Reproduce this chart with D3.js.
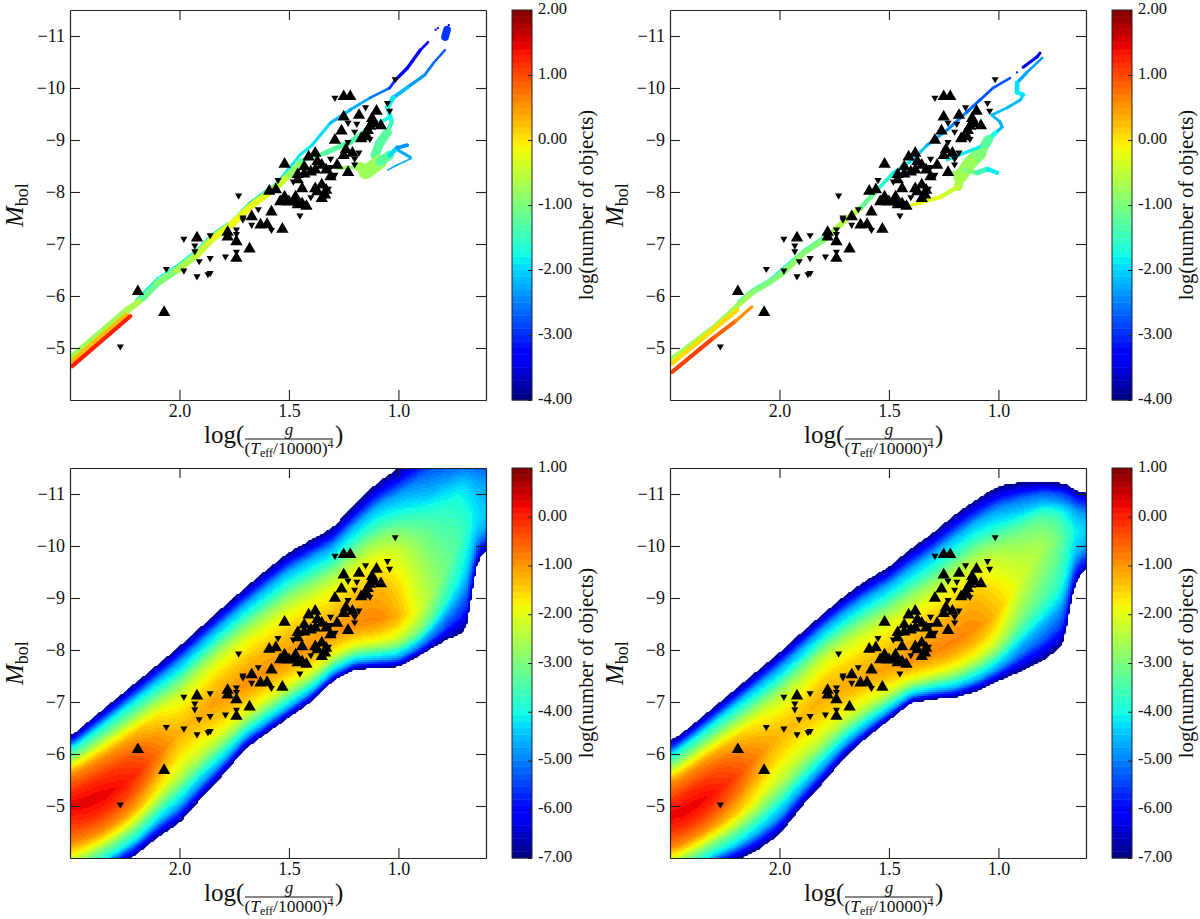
<!DOCTYPE html>
<html>
<head>
<meta charset="utf-8">
<script src="https://cdn.jsdelivr.net/npm/d3@7"></script>
<style>
    html, body { margin: 0; padding: 0; background: #fff; }
    svg text { font-family: "Liberation Serif", serif; fill: #111; }
</style>
</head>
<body>
<svg id="chart" width="1200" height="919"></svg>
<script>
// observed objects, [log(g/(Teff/10000)^4), Mbol]
const upObjects = [
    [2.19,-6.12],[2.07,-5.72],[1.92,-7.15],[1.78,-7.26],[1.78,-7.17],[1.74,-7.08],[1.74,-6.76],[1.68,-6.94],
    [1.63,-7.40],[1.60,-7.41],[1.53,-7.32],[1.52,-8.57],[1.59,-8.05],[1.56,-8.08],[1.43,-8.38],[1.46,-8.37],
    [1.51,-7.85],[1.48,-7.85],[1.58,-7.65],[1.67,-7.56],[1.25,-9.87],[1.22,-9.87],[1.25,-9.48],[1.18,-9.51],
    [1.10,-9.59],[1.12,-9.45],[1.08,-9.31],[1.14,-9.22],[1.26,-9.21],[1.17,-9.06],[1.29,-9.03],[1.38,-8.78],
    [1.41,-8.71],[1.25,-8.74],[1.21,-8.78],[1.35,-8.55],[1.38,-8.46],[1.33,-8.46],[1.28,-8.55],[1.23,-8.41],
    [1.44,-8.10],[1.35,-8.17],[1.38,-8.10],[1.33,-8.07],[1.35,-7.91],[1.52,-7.94],[1.44,-7.81],[1.54,-7.85],[1.46,-7.79],
    [1.50,-7.85],[1.42,-7.76],[1.47,-7.94],[1.37,-8.62],[1.43,-8.52],[1.40,-8.42],[1.46,-8.27],[1.31,-8.33],
    [1.335,-7.98],[1.37,-8.04],[1.11,-9.35],[1.13,-9.30],[1.15,-9.15],[1.15,-9.10],[1.24,-8.85]
]
const downObjects = [
    [2.27,-5.01],[2.06,-6.50],[1.98,-7.08],[1.98,-6.47],[1.93,-6.95],[1.93,-6.84],[1.91,-6.65],[1.92,-6.36],
    [1.86,-7.15],[1.86,-6.71],[1.87,-6.40],[1.86,-6.42],[1.79,-6.74],[1.74,-7.26],[1.74,-7.17],[1.74,-6.83],
    [1.67,-7.35],[1.71,-7.45],[1.58,-7.25],[1.73,-7.91],[1.55,-8.21],[1.48,-8.18],[1.64,-7.65],[1.71,-7.49],
    [1.45,-7.53],[1.29,-9.79],[1.015,-10.15],[1.15,-9.61],[1.05,-9.69],[1.04,-9.54],[1.23,-9.31],[1.19,-9.29],
    [1.13,-9.00],[1.20,-9.14],[1.23,-8.94],[1.18,-8.74],[1.20,-8.62],[1.20,-8.51],[1.31,-8.62],[1.29,-8.31],
    [1.31,-8.46],[1.40,-7.88],[1.32,-8.04]
]

// top panels: occupied ridges of the grid, [logg, Mbol, log N, spread in Mbol]
const tracksLeft = [
    [[2.385,-5.25,-1.8,.05],[2.25,-5.69,-1.8,.05]],
    [[2.2,-5.92,-1.9,.03],[2.1,-6.35,-1.9,.03],[2.01,-6.6,-1.6,.03],[1.92,-6.9,-1.6,.03],[1.85,-7.2,-1.6,.03],[1.78,-7.4,-1.6,.03]],
    [[2.49,-4.85,-.8,.09],[2.235,-5.77,-.8,.09]],
    [[2.49,-4.75,.2,.09],[2.24,-5.65,.2,.09]],
    [[2.49,-4.65,1.2,.08],[2.225,-5.61,1.2,.08]],
    [[1.78,-7.35,-1.9,.05],[1.68,-7.79,-1.9,.05],[1.555,-8.17,-1.9,.05],[1.45,-8.71,-1.9,.06],[1.395,-8.9,-1.9,.06],[1.31,-9.33,-2,.06],
     [1.22,-9.58,-2.2,.06],[1.13,-9.81,-2.4,.05],[1.04,-10,-2.7,.05],[1.015,-10.15,-3.3,.06],[.96,-10.38,-3.3,.07],[.90,-10.73,-3.4,.06],[.865,-10.88,-3,.04]],
    [[2.235,-5.73,-.3,.12],[2.166,-5.96,-1,.12],[2.10,-6.25,-1.3,.13],[2.01,-6.5,-.7,.13],[1.92,-6.79,-.6,.13],[1.85,-7.1,-.4,.13],
     [1.755,-7.4,-.1,.13],[1.68,-7.71,-.2,.13],[1.555,-8.1,-.3,.13],[1.50,-8.33,-.6,.13],[1.45,-8.56,-1.2,.12]],
    [[.787,-10.98,-3,.15],[.778,-11.12,-3,.15]],
    [[.787,-10.73,-2.8,.04],[.84,-10.48,-2.7,.05],[.88,-10.25,-2.4,.06],[.956,-10.02,-2.3,.07],[1.025,-9.81,-2,.08],[1.05,-9.63,-1.7,.11],
     [1.03,-9.35,-1.6,.06],[1.05,-9.15,-1.4,.11],[1.085,-8.94,-1.2,.24],[1.107,-8.71,-1.2,.11]],
    [[1.45,-8.6,-1.3,.08],[1.335,-8.75,-1.3,.09],[1.22,-8.96,-1.3,.11],[1.13,-9.23,-1.5,.09],[1.04,-9.44,-2,.05]],
    [[1.05,-8.42,-2.2,.03],[1.006,-8.52,-2.2,.03],[.94,-8.65,-2.2,.03]],
    [[1.0,-8.8,-2.3,.06],[.947,-8.67,-2.3,.06]],
    [[1.28,-8.46,-1,.05],[1.175,-8.48,-.8,.09],[1.15,-8.38,-.7,.3],[1.085,-8.58,-.9,.24],[1.04,-8.71,-1.6,.11],[1.006,-8.85,-2.2,.07],[.96,-8.9,-2.5,.08]]
]
const dotsLeft = [[.83,-11.12,-3.5],[.82,-11.15,-3.5],[.77,-11.21,-3.5]]

const tracksRight = [
    [[2.49,-4.8,-.7,.09],[2.3,-5.4,-.7,.09],[2.19,-5.83,-.7,.09]],
    [[2.49,-4.71,.1,.09],[2.193,-5.73,.1,.09]],
    [[2.49,-4.54,1,.08],[2.30,-5.2,1,.08],[2.2,-5.52,.7,.07],[2.126,-5.79,.5,.05]],
    [[2.19,-5.9,-1.7,.03],[2.12,-6.14,-1.7,.03],[2.043,-6.33,-1.7,.03],[1.89,-6.89,-1.6,.03],[1.78,-7.2,-1.6,.03]],
    [[2.19,-5.83,-.7,.11],[2.12,-6.08,-.9,.11],[2.043,-6.27,-1.1,.11],[1.98,-6.46,-.8,.11],[1.89,-6.83,-.9,.11],[1.78,-7.13,-1,.11],
     [1.71,-7.42,-.3,.11],[1.63,-7.69,-.8,.1],[1.554,-8.04,-1.5,.08],[1.48,-8.37,-1.7,.06],[1.39,-8.62,-2,.06],[1.326,-8.9,-2.1,.06],
     [1.235,-9.19,-2.3,.06],[1.143,-9.54,-2.6,.06],[1.084,-9.77,-2.7,.06],[1.025,-10,-2.8,.05],[.947,-10.19,-2.8,.05]],
    [[.887,-10.4,-3.3,.06],[.823,-10.6,-3.6,.06],[.81,-10.67,-3.4,.06]],
    [[.80,-10.58,-2.5,.04],[.87,-10.3,-2.3,.06],[.915,-10.1,-2.2,.07],[.915,-9.92,-1.8,.11],[.887,-9.87,-1.9,.06],[.90,-9.77,-2,.06],
     [.96,-9.62,-2.2,.05],[1.03,-9.48,-2,.05],[.993,-9.35,-2.2,.06],[.983,-9.25,-2.2,.06],[1.015,-9.13,-2,.06],[1.047,-9,-1.4,.13],
     [1.084,-8.75,-1.1,.24],[1.13,-8.56,-.9,.28],[1.175,-8.29,-.7,.24],[1.184,-8.1,-.6,.09],[1.266,-7.9,-.3,.08],[1.358,-7.79,-.2,.07],[1.426,-7.71,-.2,.06]],
    [[1.234,-8.33,-.8,.05],[1.16,-8.42,-.7,.08],[1.098,-8.37,-1.3,.09],[1.05,-8.44,-1.7,.11],[1.006,-8.37,-2.1,.06]],
    [[1.234,-8.62,-1.9,.05],[1.084,-8.87,-1.8,.07]]
]
const dotsRight = [[.915,-10.3,-3]]

// bottom panels: the smoothed density read column by column
const columns      = [2.5,2.4,2.3,2.2,2.1,2.0,1.9,1.8,1.7,1.6,1.5,1.4,1.3,1.2,1.1,1.0,.9,.8,.7,.67,.66,.6]
const topEdgeLeft  = [-6.33,-6.68,-7.03,-7.37,-7.72,-8.07,-8.45,-8.83,-9.2,-9.55,-9.88,-10.12,-10.35,-10.8,-11.2,-11.5,-11.85,-12.1,-12.1,-12.1,-12.1,-12.1]
const lowEdgeLeft  = [-3.3,-3.55,-3.8,-4.05,-4.4,-4.67,-5.15,-5.6,-6.1,-6.4,-6.7,-7,-7.4,-7.62,-7.65,-7.67,-7.9,-8.15,-8.35,-8.6,-9.45,-10]
const ridgeMLeft   = [-5,-5.1,-5.3,-5.6,-6,-6.4,-6.8,-7.1,-7.35,-7.6,-7.85,-8.05,-8.3,-8.5,-8.6,-8.65,-8.75,-9.4,-10.4,-10.5,-10.55,-10.6]
const ridgeNLeft   = [.3,.38,.28,-.02,-.65,-1.3,-1.15,-1,-.92,-.95,-.95,-.95,-1,-.9,-.8,-1.2,-2.15,-3,-3.6,-4,-4.1,-4.6]
const topEdgeRight = [-6.23,-6.55,-6.9,-7.25,-7.6,-7.95,-8.33,-8.7,-9.05,-9.35,-9.6,-9.95,-10.25,-10.6,-10.9,-11.15,-11.23,-11.25,-11.2,-11.15,-11.1,-11]
const lowEdgeRight = [-3.4,-3.6,-3.8,-3.95,-4.15,-4.45,-4.98,-5.45,-5.95,-6.32,-6.65,-6.98,-7.05,-7.08,-7.2,-7.4,-7.58,-7.78,-8.1,-8.9,-9.15,-9.63]
const ridgeMRight  = [-4.75,-4.98,-5.25,-5.55,-5.95,-6.35,-6.7,-7.1,-7.3,-7.5,-7.68,-7.8,-7.95,-8.15,-8.45,-8.7,-9.4,-10,-10.2,-10.25,-10.25,-10.3]
const ridgeNRight  = [.3,.36,.18,-.25,-.85,-1.3,-1.3,-1.15,-1.15,-1.1,-1.05,-.95,-.85,-.82,-.85,-1.35,-2.15,-2.55,-3.3,-3.9,-4,-4.6]
// share of the rise from the edge level to the ridge level, across a column
const profileAt    = [0,.18,.32,.42,.56,.79,1]
const profileRise  = [0,.39,.55,.69,.83,.94,1]

const xTicks = [2.0,1.5,1.0]
const yTicks = [-5,-6,-7,-8,-9,-10,-11]
const topBarTicks = [2,1,0,-1,-2,-3,-4]
const lowBarTicks = [1,0,-1,-2,-3,-4,-5,-6,-7]

const panelW = 416, panelH = 390, barW = 20, nLevels = 60, cell = 2

const x = d3.scaleLinear().domain([2.5, 0.6]).range([0, panelW])
const y = d3.scaleLinear().domain([-11.5, -4]).range([0, panelH])

// matplotlib jet
const jetR = d3.scaleLinear().domain([0,.35,.66,.89,1]).range([0,0,1,1,.5]).clamp(true)
const jetG = d3.scaleLinear().domain([0,.125,.375,.64,.91,1]).range([0,0,1,1,0,0]).clamp(true)
const jetB = d3.scaleLinear().domain([0,.11,.34,.65,1]).range([.5,1,1,0,0]).clamp(true)
const jet = t => d3.rgb(jetR(t) * 255, jetG(t) * 255, jetB(t) * 255).formatHex()

// colour of the band a value falls in
const bandColor = (v, lo, hi) => {
    const step = (hi - lo) / nLevels
    const b = Math.min(nLevels - 1, Math.max(0, Math.floor((v - lo) / step)))
    return jet((b + 0.5) / nLevels)
}

const svg = d3.select("#chart")

function smooth(arr, r) {
    return arr.map((_, i) => d3.mean(arr.slice(Math.max(0, i - r), i + r + 1)))
}

function drawField(g, topEdge, lowEdge, ridgeM, ridgeN) {
    const nx = Math.round(panelW / cell), ny = Math.round(panelH / cell)
    const sample = arr => {
        const s = d3.scaleLinear().domain(columns).range(arr)
        return d3.range(nx).map(i => s(x.invert((i + .5) * cell)))
    }
    const top = smooth(sample(topEdge), 2), low = smooth(sample(lowEdge), 2)
    const rm = smooth(sample(ridgeM), 5), rn = smooth(sample(ridgeN), 5)
    const rise = d3.scaleLinear().domain(profileAt).range(profileRise)

    const field = new Float64Array(nx * ny)
    for (let j = 0; j < ny; j++) {
        const m = y.invert((j + .5) * cell)
        for (let i = 0; i < nx; i++) {
            let v = -9
            if (m >= top[i] && m <= low[i]) {
                const t = m < rm[i] ? (m - top[i]) / (rm[i] - top[i]) : (low[i] - m) / (low[i] - rm[i])
                v = -7 + (rn[i] + 7) * rise(t)
            }
            field[j * nx + i] = v
        }
    }

    const levels = d3.range(nLevels).map(k => -7 + k * 8 / nLevels)
    const contours = d3.contours().size([nx, ny]).smooth(false).thresholds(levels)(field)
    const path = d3.geoPath(d3.geoIdentity().scale(cell))
    g.append("g").selectAll("path")
        .data(contours)
        .join("path")
        .attr("d", path)
        .attr("fill", d => bandColor(d.value + 1e-6, -7, 1))
}

function drawTracks(g, tracks, dots) {
    const segs = g.append("g").attr("fill", "none").attr("stroke-linecap", "round")
    tracks.forEach(track => {
        d3.pairs(track).forEach(([a, b]) => {
            segs.append("line")
                .attr("x1", x(a[0])).attr("y1", y(a[1]))
                .attr("x2", x(b[0])).attr("y2", y(b[1]))
                .attr("stroke", bandColor((a[2] + b[2]) / 2, -4, 2))
                .attr("stroke-width", y(-4 + (a[3] + b[3]) / 2) - y(-4))
        })
    })
    g.append("g").selectAll("rect")
        .data(dots)
        .join("rect")
        .attr("x", d => x(d[0]) - 1).attr("y", d => y(d[1]) - 1)
        .attr("width", 2).attr("height", 2)
        .attr("fill", d => bandColor(d[2], -4, 2))
}

function drawObjects(g) {
    // d3's triangle sits on its centroid, shift so the box is centred on the point
    g.append("g").selectAll("path")
        .data(upObjects)
        .join("path")
        .attr("d", d3.symbol().type(d3.symbolTriangle).size(66))
        .attr("transform", d => `translate(${x(d[0])},${y(d[1]) + 1.8})`)
        .attr("fill", "#000")
    g.append("g").selectAll("path")
        .data(downObjects)
        .join("path")
        .attr("d", d3.symbol().type(d3.symbolTriangle).size(22))
        .attr("transform", d => `translate(${x(d[0])},${y(d[1]) - 1}) rotate(180)`)
        .attr("fill", "#000")
}

function styleAxis(a) {
    a.selectAll(".domain").attr("stroke", "#222").attr("stroke-width", 1.2)
    a.selectAll(".tick line").attr("stroke", "#222").attr("stroke-width", 1.1)
    a.selectAll("text").attr("font-size", 18).attr("fill", "#222")
    return a
}

function drawAxes(g) {
    const ax = (gen, dx, dy) => styleAxis(g.append("g").attr("transform", `translate(${dx},${dy})`).call(gen))
    ax(d3.axisBottom(x).tickValues(xTicks).tickSizeInner(-10).tickSizeOuter(0).tickPadding(4).tickFormat(d3.format(".1f")), 0, panelH)
    ax(d3.axisTop(x).tickValues(xTicks).tickSizeInner(-10).tickSizeOuter(0).tickFormat(""), 0, 0)
    ax(d3.axisLeft(y).tickValues(yTicks).tickSizeInner(-10).tickSizeOuter(0).tickPadding(5).tickFormat(d => "\u2212" + Math.abs(d)), 0, 0)
    ax(d3.axisRight(y).tickValues(yTicks).tickSizeInner(-10).tickSizeOuter(0).tickFormat(""), panelW, 0)

    // M_bol
    const yl = g.append("text")
        .attr("transform", `translate(-47.5,${panelH / 2 + 22}) rotate(-90)`)
        .attr("font-size", 25)
    yl.append("tspan").attr("font-style", "italic").text("M")
    yl.append("tspan").attr("font-size", 18).attr("dy", 5).text("bol")

    // log( g / (Teff/10000)^4 )
    const lx = 134
    g.append("text").attr("x", lx).attr("y", panelH + 43).attr("font-size", 25).text("log(")
    g.append("text").attr("x", lx + 85).attr("y", panelH + 35).attr("font-size", 17)
        .attr("font-style", "italic").attr("text-anchor", "middle").text("g")
    g.append("line").attr("x1", lx + 41).attr("x2", lx + 129)
        .attr("y1", panelH + 39).attr("y2", panelH + 39).attr("stroke", "#111").attr("stroke-width", 1)
    const den = g.append("text").attr("x", lx + 85).attr("y", panelH + 54).attr("font-size", 17.5).attr("text-anchor", "middle")
    den.append("tspan").text("(")
    den.append("tspan").attr("font-style", "italic").text("T")
    den.append("tspan").attr("font-size", 12).attr("dy", 3).text("eff")
    den.append("tspan").attr("dy", -3).text("/10000)")
    den.append("tspan").attr("font-size", 12).attr("dy", -6).text("4")
    g.append("text").attr("x", lx + 131).attr("y", panelH + 43).attr("font-size", 25).text(")")
}

function drawColorbar(g, lo, hi, ticks) {
    const by = d3.scaleLinear().domain([lo, hi]).range([panelH, 0])
    const levels = d3.range(nLevels).map(k => lo + k * (hi - lo) / nLevels)
    g.append("g").selectAll("rect")
        .data(levels)
        .join("rect")
        .attr("x", 0).attr("width", barW)
        .attr("y", d => by(d + (hi - lo) / nLevels))
        .attr("height", by(lo) - by(lo + (hi - lo) / nLevels) + .4)
        .attr("fill", d => bandColor(d + 1e-6, lo, hi))
    g.append("rect").attr("width", barW).attr("height", panelH)
        .attr("fill", "none").attr("stroke", "#222").attr("stroke-width", 1)
    const a = g.append("g").attr("transform", `translate(${barW},0)`)
        .call(d3.axisRight(by).tickValues(ticks).tickSizeInner(-4).tickSizeOuter(0).tickPadding(6).tickFormat(d => d.toFixed(2)))
    a.select(".domain").remove()
    a.selectAll(".tick line").attr("stroke", "#222")
    a.selectAll("text").attr("font-size", 16.5).attr("fill", "#222").attr("dy", "0.2em")
    g.append("text")
        .attr("transform", `translate(${barW + 61},${panelH / 2}) rotate(-90)`)
        .attr("text-anchor", "middle").attr("font-size", 20.8)
        .text("log(number of objects)")
}

const panels = [
    { left: 70, top: 10, tracks: tracksLeft, dots: dotsLeft },
    { left: 670, top: 10, tracks: tracksRight, dots: dotsRight },
    { left: 70, top: 468, field: [topEdgeLeft, lowEdgeLeft, ridgeMLeft, ridgeNLeft] },
    { left: 670, top: 468, field: [topEdgeRight, lowEdgeRight, ridgeMRight, ridgeNRight] }
]

panels.forEach((p, i) => {
    const g = svg.append("g").attr("transform", `translate(${p.left},${p.top})`)
    const clip = "clip" + i
    svg.append("clipPath").attr("id", clip).append("rect").attr("width", panelW).attr("height", panelH)
    const plot = g.append("g").attr("clip-path", `url(#${clip})`)
    if (p.field) drawField(plot, ...p.field)
    else drawTracks(plot, p.tracks, p.dots)
    drawObjects(g)
    drawAxes(g)
    const bar = svg.append("g").attr("transform", `translate(${p.left + 442},${p.top})`)
    if (p.field) drawColorbar(bar, -7, 1, lowBarTicks)
    else drawColorbar(bar, -4, 2, topBarTicks)
})
</script>
</body>
</html>
